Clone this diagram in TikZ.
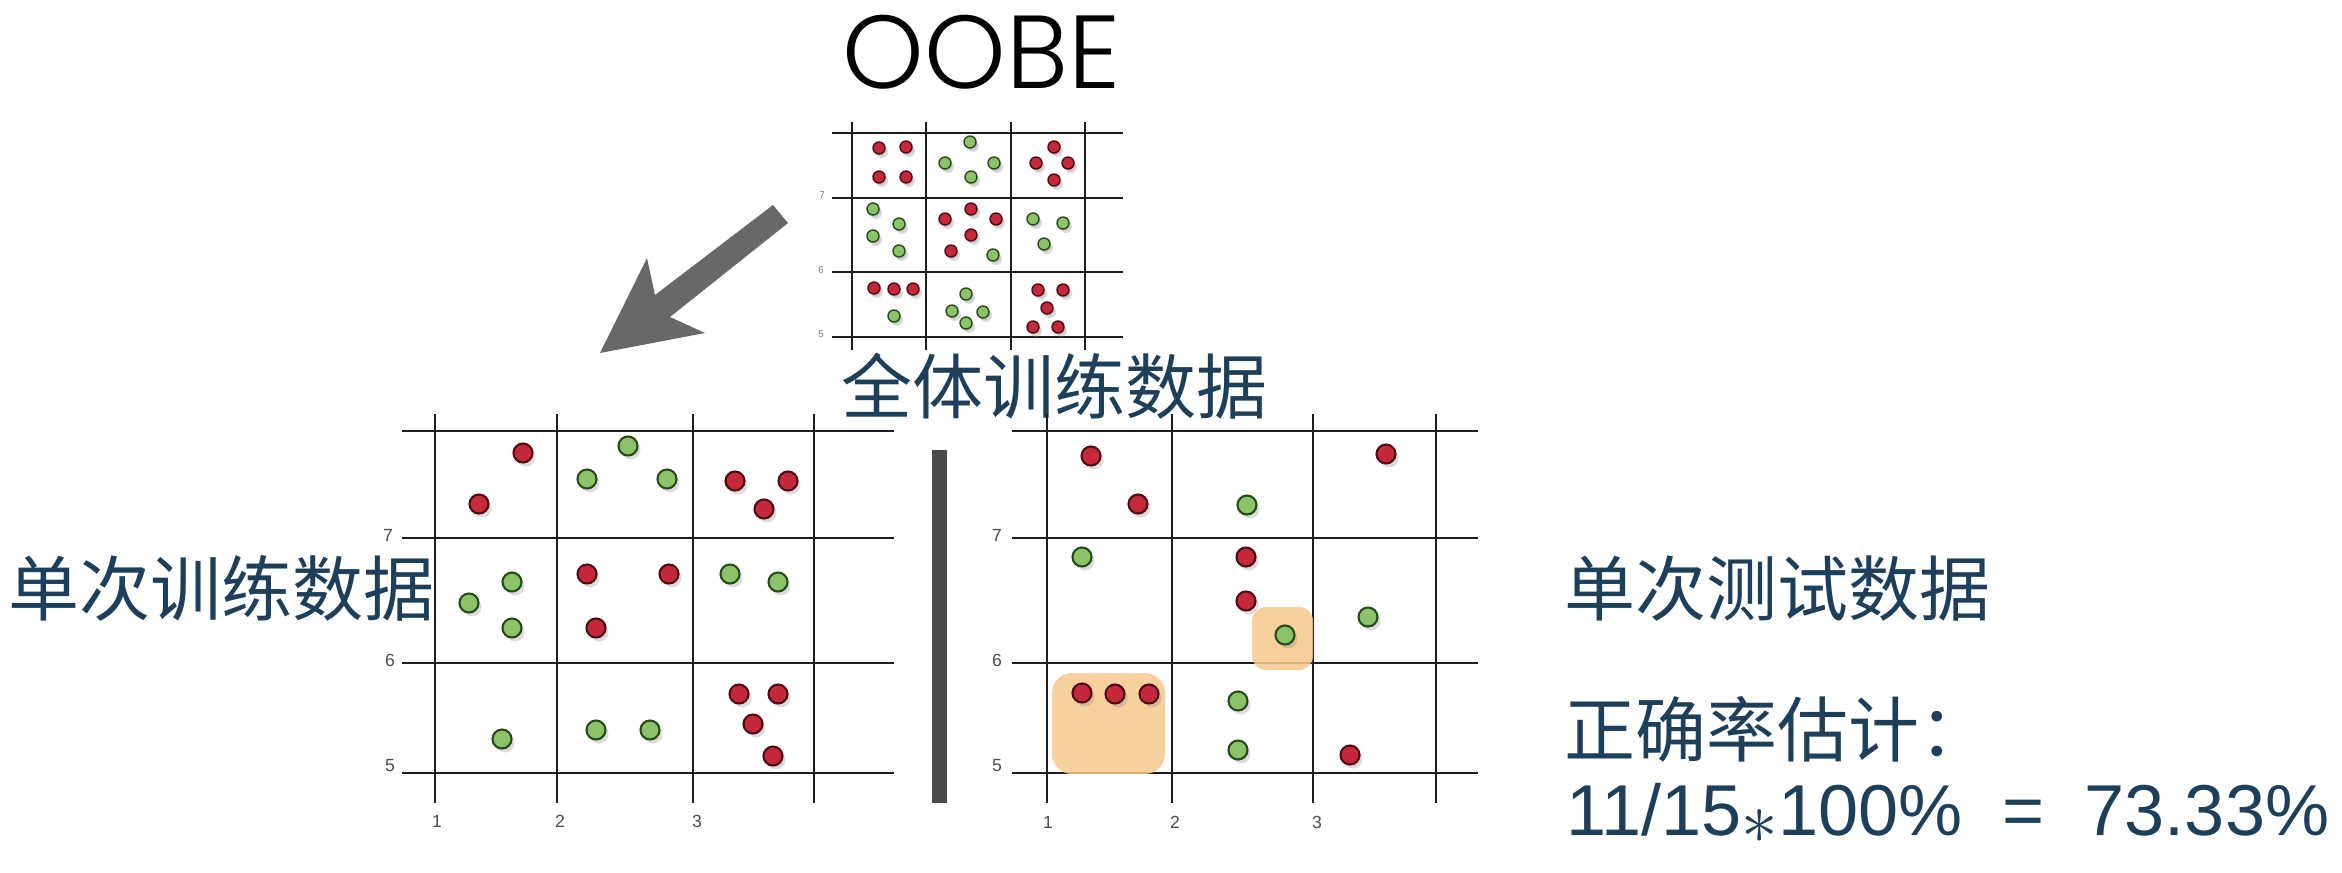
\documentclass[tikz,border=0pt]{standalone}
\usepackage{fontspec}
\setmainfont{Liberation Sans}
\newfontfamily\cjk{Noto Sans CJK SC}
\IfFontExistsTF{Poppins Light}{\newfontfamily\oobe{Poppins Light}}{\newfontfamily\oobe{Poppins}}
\usetikzlibrary{shadows}
\definecolor{txtblue}{RGB}{30,63,90}
\definecolor{dotred}{RGB}{196,40,58}
\definecolor{dotredd}{RGB}{80,10,20}
\definecolor{dotgreen}{RGB}{140,194,104}
\definecolor{dotgreend}{RGB}{40,75,28}
\definecolor{gridc}{RGB}{30,30,30}
\definecolor{hl}{RGB}{246,200,140}
\definecolor{arrowgray}{RGB}{104,104,104}
\definecolor{bargray}{RGB}{74,74,74}
\tikzset{
  gridline/.style={draw=gridc, line width=0.65pt},
  smallgrid/.style={draw=gridc, line width=0.5pt},
  rd/.style={circle, inner sep=0pt, minimum size=0.19cm, fill=dotred, draw=dotredd, line width=0.6pt,
     drop shadow={shadow xshift=0.03cm, shadow yshift=-0.04cm, opacity=0.28}},
  gd/.style={rd, fill=dotgreen, draw=dotgreend},
  rs/.style={rd, minimum size=0.12cm, line width=0.4pt,
     drop shadow={shadow xshift=0.015cm, shadow yshift=-0.02cm, opacity=0.25}},
  gs/.style={rs, fill=dotgreen, draw=dotgreend},
  axlab/.style={text=black!70, font=\fontsize{5pt}{6pt}\selectfont, inner sep=0pt},
  axsmall/.style={text=black!50, font=\fontsize{2.8pt}{3pt}\selectfont, inner sep=0pt},
  bigtxt/.style={text=txtblue, inner sep=0pt, anchor=base west, font=\fontsize{20.2pt}{24pt}\selectfont},
  hlbox/.style={fill=hl, opacity=0.85},
}
\begin{document}
\begin{tikzpicture}[x=0.01cm, y=-0.01cm]
\useasboundingbox (0,0) rectangle (2342,872);

% ---------- title ----------
\node[anchor=base west, inner sep=0pt, font=\oobe\fontsize{29.5pt}{30pt}\selectfont] (oobe) at (842,88) {OOBE};

% ---------- top grid ----------
\foreach \yy in {133,198,272,337} \draw[smallgrid] (832,\yy) -- (1123,\yy);
\foreach \xx in {852,926,1011,1085} \draw[smallgrid] (\xx,122) -- (\xx,350);
\node[axsmall] (t7) at (822,195) {7};
\node[axsmall] (t6) at (821,270) {6};
\node[axsmall] (t5) at (821,334) {5};
\foreach \p in {(879,148),(906,147),(879,177),(906,177),(1054,147),(1036,163),(1068,163),(1054,180),
  (971,209),(945,219),(996,219),(971,235),(951,251),
  (874,288),(894,289),(913,289),(1038,290),(1063,290),(1047,308),(1033,327),(1058,327)}
  \node[rs] at \p {};
\foreach \p in {(970,142),(945,163),(994,163),(971,177),
  (873,209),(899,224),(873,236),(899,251),(993,255),(1033,219),(1063,223),(1044,244),
  (894,316),(966,294),(952,311),(983,312),(966,323)}
  \node[gs] at \p {};

% ---------- big arrow ----------
\fill[arrowgray] (773,205) -- (655,295) -- (647,258) -- (600,353) -- (705,333) -- (670,317) -- (788,223) -- cycle;

% ---------- texts ----------
\node[bigtxt] (all) at (841,413) {\cjk 全体训练数据};
\node[bigtxt] (train) at (8,615) {\cjk 单次训练数据};
\node[bigtxt] (test) at (1564,615) {\cjk 单次测试数据};
\node[bigtxt] (acc) at (1564,756) {\cjk 正确率估计：};
\node[bigtxt, font=\fontsize{20.5pt}{24pt}\selectfont] (calc) at (1566,835) {11/15\raisebox{-0.12em}{$\ast$}100\%~~=~~73.33\%};

% ---------- left grid ----------
\foreach \yy in {431,538,663,773} \draw[gridline] (402,\yy) -- (894,\yy);
\foreach \xx in {435,557,693,814} \draw[gridline] (\xx,414) -- (\xx,803);
\node[axlab] (l7) at (388,535) {7};
\node[axlab] (l6) at (390,660) {6};
\node[axlab] (l5) at (390,766) {5};
\node[axlab] (l1) at (437,821) {1};
\node[axlab] (l2) at (560,821) {2};
\node[axlab] (l3) at (697,821) {3};
\foreach \p in {(523,453),(479,504),(735,481),(788,481),(764,509),(587,574),(669,574),(596,628),
  (739,694),(778,694),(753,724),(773,756)}
  \node[rd] at \p {};
\foreach \p in {(628,446),(587,479),(667,479),(512,582),(469,603),(512,628),(730,574),(778,582),
  (502,739),(596,730),(650,730)}
  \node[gd] at \p {};

% ---------- separator ----------
\fill[bargray] (932,450) rectangle (947,803);

% ---------- right grid ----------
\foreach \yy in {431,538,663,773} \draw[gridline] (1012,\yy) -- (1478,\yy);
\foreach \xx in {1047,1172,1313,1436} \draw[gridline] (\xx,414) -- (\xx,803);
\node[axlab] (r7) at (997,535) {7};
\node[axlab] (r6) at (997,660) {6};
\node[axlab] (r5) at (997,766) {5};
\node[axlab] (r1) at (1048,822) {1};
\node[axlab] (r2) at (1175,822) {2};
\node[axlab] (r3) at (1317,822) {3};
\fill[hlbox, rounded corners=0.2cm] (1052,673) rectangle (1165,774);
\fill[hlbox, rounded corners=0.14cm] (1252,607) rectangle (1313,670);
\foreach \p in {(1091,456),(1138,504),(1386,454),(1246,557),(1246,601),(1082,693),(1115,694),(1149,694),(1350,755)}
  \node[rd] at \p {};
\foreach \p in {(1247,505),(1082,557),(1285,635),(1368,617),(1238,701),(1238,750)}
  \node[gd] at \p {};
\end{tikzpicture}
\end{document}
